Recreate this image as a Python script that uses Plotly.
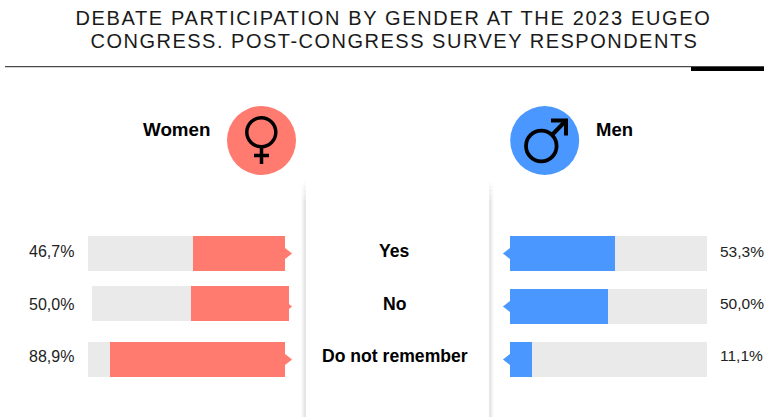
import plotly.graph_objects as go

W, H = 764, 417
categories = ["Yes", "No", "Do not remember"]
women = [46.7, 50.0, 88.9]
men = [53.3, 50.0, 11.1]
women_labels = ["46,7%", "50,0%", "88,9%"]
men_labels = ["53,3%", "50,0%", "11,1%"]
full = [100, 100, 100]
title_lines = ["DEBATE PARTICIPATION BY GENDER AT THE 2023 EUGEO",
               "CONGRESS. POST-CONGRESS SURVEY RESPONDENTS"]

RED, BLUE, GREY = "#FF7B70", "#4A98FF", "#EAEAEA"
FONT = "Liberation Sans, Arial, sans-serif"
px = lambda x: x / W
py = lambda y: 1 - y / H
xdom = lambda a, b: [px(a), px(b)]
ydom = lambda top, bot: [py(bot), py(top)]

fig = go.Figure()

def bars(xa, ya, vals, colour, cats=categories, bg=full):
    fig.add_trace(go.Bar(y=cats, x=bg, orientation="h", marker=dict(color=GREY, line_width=0),
                         width=0.66, xaxis=xa, yaxis=ya, hoverinfo="skip"))
    fig.add_trace(go.Bar(y=cats, x=vals, orientation="h", marker=dict(color=colour, line_width=0),
                         width=0.66, xaxis=xa, yaxis=ya, hoverinfo="skip"))

# Women: Yes / Do not remember on the main axes; "No" row sits on slightly shifted axes
bars("x", "y", [women[0], women[2]], RED, [categories[0], categories[2]], [100, 100])
bars("x2", "y2", [women[1]], RED, [categories[1]], [100])
bars("x3", "y3", men, BLUE)

ARROW_OFFSET = -1.2  # axis units outside the zero line
PAD = 4              # axis units kept beyond zero so the arrows stay in range
UNIT = 1.97          # pixels per axis unit
fig.add_trace(go.Scatter(y=categories, x=[ARROW_OFFSET] * 3, mode="markers", xaxis="x", yaxis="y",
                         marker=dict(symbol="triangle-right", size=9.4, color=RED, line_width=0),
                         hoverinfo="skip"))
fig.add_trace(go.Scatter(y=categories, x=[ARROW_OFFSET] * 3, mode="markers", xaxis="x3", yaxis="y3",
                         marker=dict(symbol="triangle-left", size=9.4, color=BLUE, line_width=0),
                         hoverinfo="skip"))

hidden = dict(visible=False, fixedrange=True)
cat_y = dict(hidden, type="category", categoryorder="array", categoryarray=categories, range=[2.5, -0.5])
fig.update_layout(
    width=W, height=H, autosize=False, margin=dict(l=0, r=0, t=0, b=0), showlegend=False,
    barmode="overlay", bargap=0, paper_bgcolor="white", plot_bgcolor="rgba(0,0,0,0)",
    font=dict(family=FONT, color="#222222"),
    xaxis=dict(hidden, domain=xdom(88, 285 + PAD * UNIT), range=[100, -PAD]),
    yaxis=dict(cat_y, domain=ydom(227, 386)),
    xaxis2=dict(hidden, domain=xdom(92, 289), range=[100, 0], anchor="y2"),
    yaxis2=dict(cat_y, domain=ydom(223.5, 382.5), anchor="x2"),
    xaxis3=dict(hidden, domain=xdom(510 - PAD * UNIT, 707), range=[-PAD, 100], anchor="y3"),
    yaxis3=dict(cat_y, domain=ydom(227, 386), anchor="x3"),
)

shapes = []
def rect(x0, y0, x1, y1, color, opacity=1):
    shapes.append(dict(type="rect", xref="paper", yref="paper", x0=px(x0), x1=px(x1), y0=py(y0), y1=py(y1),
                       fillcolor=color, line_width=0, opacity=opacity, layer="below"))

# header rule
rect(5, 66, 764, 67.2, "#4a4a4a")
rect(691, 67, 764, 71, "#000000")

# column shadows with a soft fade at the top
for i, (dx, op) in enumerate([(0, .55), (1, .38), (2, .22), (3, .12), (4, .05)]):
    for top, f in [(182, .15), (186, .3), (190, .5), (195, .75), (200, 1)]:
        rect(304.7 - dx, top, 305.7 - dx, top + 5 if f < 1 else H, "#BDBDBD", op * f)
        rect(489.3 + dx, top, 490.3 + dx, top + 5 if f < 1 else H, "#BDBDBD", op * f)

def circle(cx, cy, r, **kw):
    shapes.append(dict(type="circle", xref="paper", yref="paper", x0=px(cx - r), x1=px(cx + r),
                       y0=py(cy + r), y1=py(cy - r), **kw))
def path(pts, width=3.5):
    d = "M" + " L".join(f"{px(x):.5f},{py(y):.5f}" for x, y in pts)
    shapes.append(dict(type="path", xref="paper", yref="paper", path=d,
                       line=dict(color="black", width=width)))

circle(261.5, 140.5, 34.5, fillcolor=RED, line_width=0)
circle(544.7, 140.5, 34.5, fillcolor=BLUE, line_width=0)
# female symbol
circle(261.3, 132.3, 14.5, fillcolor="rgba(0,0,0,0)", line=dict(color="black", width=3.5))
path([(261.5, 147), (261.5, 164)])
path([(254, 155.5), (269, 155.5)])
# male symbol
circle(541.3, 146, 15.3, fillcolor="rgba(0,0,0,0)", line=dict(color="black", width=3.8))
path([(552, 135), (566, 120.5)], 4)
path([(551, 120.5), (566, 120.5), (566, 135.5)], 4)
fig.update_layout(shapes=shapes)

annotations = []
def note(text, x, y, anchor="center", size=16, weight="normal", color="#222222", xref="paper", yref="paper", yshift=0):
    annotations.append(dict(text=text, x=x, y=y, xref=xref, yref=yref, xanchor=anchor, yanchor="middle",
                            showarrow=False, yshift=yshift, font=dict(size=size, color=color, family=FONT, weight=weight)))

note(title_lines[0], px(394), py(18), size=20, color="#1a1a1a")
note(title_lines[1], px(394.5), py(41), size=20, color="#1a1a1a")
note("Women", px(176), py(129.5), size=18.8, weight="bold", color="#000000")
note("Men", px(614.5), py(129.5), size=18.5, weight="bold", color="#000000")
centre_shift = [2, 3, 4]
left_shift = [2, 2, 3]
right_shift = [2, 3, 4]
for c, wl, ml, s0, s1, s2 in zip(categories, women_labels, men_labels, centre_shift, left_shift, right_shift):
    note(c, px(394.5), c, size=17.6, weight="bold", color="#000000", yref="y", yshift=s0)
    note(wl, px(76), c, anchor="right", yref="y", yshift=s1)
    note(ml, px(718), c, anchor="left", size=15.5, yref="y3", yshift=s2)
fig.update_layout(annotations=annotations)

post = """
document.body.style.margin='0';
document.querySelectorAll('.annotation-text').forEach(function(t){
  if (t.textContent.indexOf('EUGEO')>=0) { t.style.letterSpacing='1.65px'; }
  if (t.textContent.indexOf('RESPONDENTS')>=0) { t.style.letterSpacing='1.5px'; }
});
"""
fig.write_html("out.html", post_script=post, config={"displayModeBar": False})
